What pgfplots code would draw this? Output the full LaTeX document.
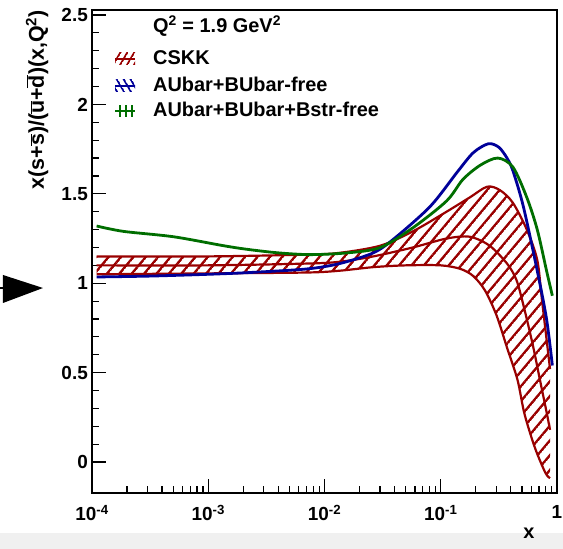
\documentclass[border=0pt]{standalone}
\usepackage{fontspec}
\setmainfont{Liberation Sans}
\usepackage{pgfplots}
\pgfplotsset{compat=1.18}
\usepgfplotslibrary{fillbetween}
\usetikzlibrary{patterns.meta}
\definecolor{cred}{RGB}{153,0,0}
\definecolor{cblue}{RGB}{0,0,153}
\definecolor{cgreen}{RGB}{0,110,0}
\definecolor{bggray}{RGB}{240,240,240}
\tikzdeclarepattern{
  name=hatch,
  parameters={\pgfkeysvalueof{/pgf/pattern keys/size},
              \pgfkeysvalueof{/pgf/pattern keys/angle},
              \pgfkeysvalueof{/pgf/pattern keys/line width}},
  bounding box={(0,-0.5*\pgfkeysvalueof{/pgf/pattern keys/line width}) and
                (\pgfkeysvalueof{/pgf/pattern keys/size},
                 0.5*\pgfkeysvalueof{/pgf/pattern keys/line width})},
  tile size={(\pgfkeysvalueof{/pgf/pattern keys/size},
              \pgfkeysvalueof{/pgf/pattern keys/size})},
  tile transformation={rotate=\pgfkeysvalueof{/pgf/pattern keys/angle}},
  defaults={size/.initial=5pt, angle/.initial=45, line width/.initial=.4pt},
  code={\draw[line width=\pgfkeysvalueof{/pgf/pattern keys/line width}]
        (0,0) -- (\pgfkeysvalueof{/pgf/pattern keys/size},0);}
}
\pgfplotstableread{
x y
1.096e-4 1.32
1.862e-4 1.29
5.012e-4 1.26
1.349e-3 1.21
2.138e-3 1.19
3.981e-3 1.17
7.586e-3 1.16
0.01585 1.17
0.03020 1.20
0.05754 1.31
0.1122 1.46
0.1549 1.58
0.2188 1.66
0.3090 1.70
0.4169 1.65
0.5495 1.48
0.6761 1.30
0.8128 1.07
0.9120 0.93
}\green
\pgfplotstableread{
x y
1.096e-4 1.035
3.162e-4 1.04
1e-3 1.05
2.291e-3 1.06
7.079e-3 1.08
0.01349 1.11
0.02630 1.17
0.03981 1.25
0.08128 1.43
0.1380 1.62
0.1905 1.73
0.2570 1.78
0.3162 1.76
0.3715 1.70
0.4169 1.63
0.5129 1.43
0.6761 1.07
0.8128 0.80
0.9120 0.54
}\blue
\pgfplotstableread{
x y
1.096e-4 1.15
1e-3 1.15
7.079e-3 1.16
0.01349 1.17
0.03020 1.21
0.05754 1.29
0.1122 1.40
0.1778 1.48
0.2512 1.54
0.3236 1.52
0.4169 1.45
0.5495 1.30
0.6761 1.13
0.7413 0.91
0.8710 0.52
}\up
\pgfplotstableread{
x y
1.096e-4 1.10
1e-3 1.10
7.079e-3 1.11
0.01349 1.12
0.02630 1.15
0.05754 1.20
0.1122 1.25
0.1778 1.26
0.2630 1.21
0.3715 1.11
0.4467 1.02
0.5129 0.88
0.6166 0.66
0.7079 0.47
0.8128 0.28
0.8710 0.18
}\mid
\pgfplotstableread{
x y
1.096e-4 1.05
1e-3 1.055
7.079e-3 1.06
0.01349 1.07
0.02630 1.09
0.05012 1.10
0.1 1.10
0.1479 1.08
0.1905 1.04
0.2399 0.96
0.3020 0.82
0.3715 0.64
0.4571 0.46
0.5248 0.27
0.6457 0.08
0.7943 -0.06
0.8710 -0.09
}\low
\begin{document}
\begin{tikzpicture}[x=1bp,y=1bp]
\fill[bggray] (-92,-56) rectangle (471,-40);
\begin{axis}[
  at={(0,0)}, anchor=south west,
  scale only axis, width=465bp, height=483bp,
  xmode=log, xmin=1e-4, xmax=1, ymin=-0.173, ymax=2.528,
  axis line style={line width=1.4bp},
  xtick={1e-4,1e-3,1e-2,1e-1,1},
  xticklabels={10\textsuperscript{-4},10\textsuperscript{-3},10\textsuperscript{-2},10\textsuperscript{-1},1},
  ytick={0,0.5,1,1.5,2,2.5},
  yticklabels={0,0.5,1,1.5,2,2.5},
  minor y tick num=4,
  tick align=inside,
  xtick pos=bottom, ytick pos=left,
  major tick length=14bp, minor tick length=7bp,
  every tick/.style={line width=1.2bp, black},
  tick label style={font=\fontsize{19}{22}\selectfont\bfseries},
  xticklabel style={anchor=north, inner sep=0pt, yshift=-12bp},
  yticklabel style={anchor=east, inner sep=0pt, xshift=-4bp},
  clip=false,
]
\addplot[name path=up, cred, line width=2.2bp, smooth] table {\up};
\addplot[name path=lo, cred, line width=2.2bp, smooth] table {\low};
\addplot[pattern={hatch[size=9.5bp, line width=2.4bp, angle=50]}, pattern color=cred, draw=none] fill between[of=up and lo];
\addplot[cred, line width=2.2bp, smooth] table {\mid};
\addplot[cblue, line width=2.8bp, smooth] table {\blue};
\addplot[cgreen, line width=2.8bp, smooth] table {\green};
\end{axis}
% y label
\node[rotate=90, anchor=east, inner sep=0pt, font=\fontsize{21.5}{24}\selectfont\bfseries]
  at (-55,483) {x(s+$\overline{\mbox{s}}$)/($\overline{\mbox{u}}$+$\overline{\mbox{d}}$)(x,Q\textsuperscript{2})};
% x label
\node[inner sep=0pt, font=\fontsize{20}{22}\selectfont\bfseries] at (437,-40) {x};
% arrow
\fill[black] (-89,218) -- (-89,190) -- (-49,205) -- cycle;
\draw[black, line width=1.2bp] (-95,205) -- (-89,205);
% legend
\begin{scope}[font=\fontsize{20}{22}\selectfont\bfseries]
\node[anchor=base west, inner sep=0pt] at (61,460) {Q\textsuperscript{2} = 1.9 GeV\textsuperscript{2}};
\node[anchor=base west, inner sep=0pt] at (61,428) {CSKK};
\node[anchor=base west, inner sep=0pt] at (61,401) {AUbar+BUbar-free};
\node[anchor=base west, inner sep=0pt] at (61,376) {AUbar+BUbar+Bstr-free};
\end{scope}
\fill[pattern={hatch[size=6bp, line width=1.8bp, angle=60]}, pattern color=cred] (23,428) rectangle (43,440);
\draw[cred, line width=1.8bp] (23,434) -- (43,434);
\fill[pattern={hatch[size=6bp, line width=1.8bp, angle=-60]}, pattern color=cblue] (23,401) rectangle (43,413);
\draw[cblue, line width=1.8bp] (23,407) -- (43,407);
\fill[pattern={hatch[size=6bp, line width=1.8bp, angle=90]}, pattern color=cgreen] (23,376) rectangle (43,388);
\draw[cgreen, line width=1.8bp] (23,382) -- (43,382);
\pgfresetboundingbox
\useasboundingbox (-92,-56) rectangle (471,483+10);
\end{tikzpicture}
\end{document}
